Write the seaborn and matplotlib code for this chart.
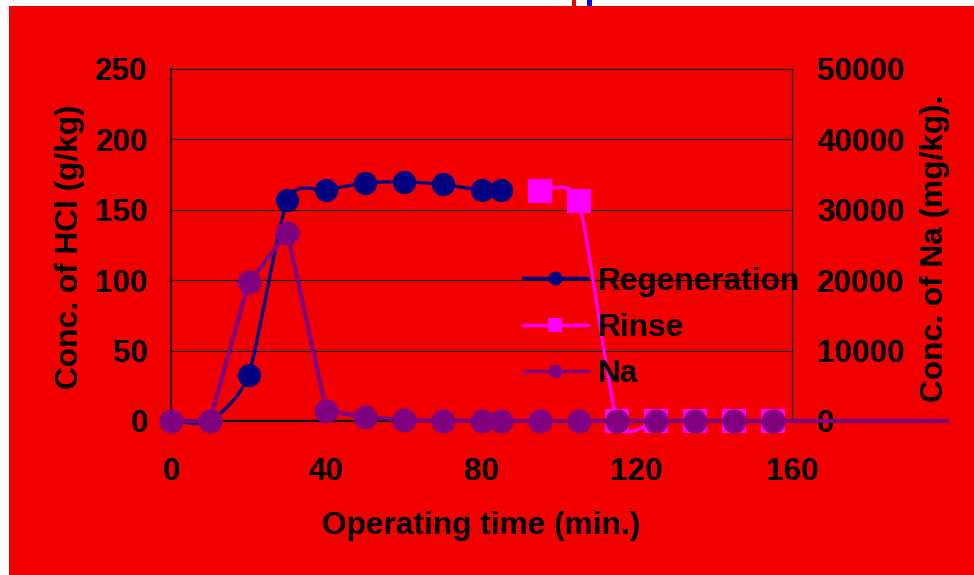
import numpy as np
import pandas as pd
import matplotlib
matplotlib.use("Agg")
import matplotlib.pyplot as plt
from matplotlib.path import Path
from matplotlib.patches import PathPatch, Rectangle
from matplotlib.lines import Line2D
import seaborn as sns

# Operating data
regen_time = [0, 10, 20, 30, 40, 50, 60, 70, 80, 85]
regen_hcl = [0, 0, 33, 157, 164, 169, 170, 168, 164, 164]          # g/kg
rinse_time = [95, 105, 115, 125, 135, 145, 155]
rinse_hcl = [163, 156, 0, 0, 0, 0, 0]                               # g/kg
na_time = [0, 10, 20, 30, 40, 50, 60, 70, 80, 85, 95, 105, 115, 125, 135, 145, 155, 200]
na_conc = [0, 0, 19700, 26700, 1450, 600, 150, 50, 50, 50, 0, 0, 0, 0, 0, 0, 0, 0]  # mg/kg

x_ticks = [0, 40, 80, 120, 160]
hcl_ticks = [0, 50, 100, 150, 200, 250]
na_ticks = [0, 10000, 20000, 30000, 40000, 50000]

BG = "#F20000"
NAVY = "#000080"
MAGENTA = "#FF00FF"
PURPLE = "#800080"

sns.set_theme(style="white")
plt.rcParams["font.family"] = ["Liberation Sans", "DejaVu Sans"]
plt.rcParams["font.weight"] = "bold"
FS = 22.8

W, H = 974, 575
fig = plt.figure(figsize=(W / 100, H / 100), dpi=100, facecolor="white")

# red backdrop and the two small marks on the top edge
fig.patches.append(Rectangle((9 / W, 0), 1 - 9 / W, (H - 6) / H, transform=fig.transFigure,
                             facecolor=BG, edgecolor="none", zorder=-10))
fig.patches.append(Rectangle((572 / W, (H - 6) / H), 4 / W, 6 / H, transform=fig.transFigure,
                             facecolor=BG, edgecolor="none", zorder=-10))
fig.patches.append(Rectangle((587 / W, (H - 6) / H), 5 / W, 6 / H, transform=fig.transFigure,
                             facecolor="#0505F0", edgecolor="none", zorder=-10))

ax = fig.add_axes([171 / W, 1 - 421 / H, (792 - 171) / W, (421 - 69) / H])
ax.set_facecolor("none")
ax2 = ax.twinx()
ax2.patch.set_visible(False)


def smooth_path(xs, ys, k=1 / 9):
    """Bezier path through the points with Catmull-Rom style tangents."""
    pts = np.column_stack([xs, ys]).astype(float)
    n = len(pts)
    verts = [pts[0]]
    codes = [Path.MOVETO]
    for i in range(n - 1):
        p0 = pts[max(i - 1, 0)]
        p1 = pts[i]
        p2 = pts[i + 1]
        p3 = pts[min(i + 2, n - 1)]
        verts += [p1 + (p2 - p0) * k, p2 - (p3 - p1) * k, p2]
        codes += [Path.CURVE4] * 3
    return Path(verts, codes)


regen = pd.DataFrame({"time": regen_time, "hcl": regen_hcl})
rinse = pd.DataFrame({"time": rinse_time, "hcl": rinse_hcl})
na = pd.DataFrame({"time": na_time, "na": na_conc})

# smoothed HCl curves
ax.add_patch(PathPatch(smooth_path(regen["time"], regen["hcl"]), facecolor="none",
                       edgecolor=NAVY, lw=2.3, zorder=3, clip_on=False))
ax.add_patch(PathPatch(smooth_path(rinse["time"], rinse["hcl"]), facecolor="none",
                       edgecolor=MAGENTA, lw=2.3, zorder=3, clip_on=False))
sns.scatterplot(data=regen, x="time", y="hcl", ax=ax, color=NAVY, marker="o", s=280,
                linewidth=0, zorder=4, clip_on=False, legend=False)
sns.scatterplot(data=rinse, x="time", y="hcl", ax=ax, color=MAGENTA, marker="s", s=300,
                linewidth=0, zorder=4, clip_on=False, legend=False)

# sodium on the secondary axis
sns.lineplot(data=na, x="time", y="na", ax=ax2, color=PURPLE, lw=3, sort=False,
             estimator=None, clip_on=False, zorder=3, legend=False)
na_pts = na[na["time"] <= x_ticks[-1]]
sns.scatterplot(data=na_pts, x="time", y="na", ax=ax2, color=PURPLE, marker="o", s=300,
                linewidth=0, zorder=4, clip_on=False, legend=False)

ax.set_xlim(x_ticks[0], x_ticks[-1])
ax.set_ylim(hcl_ticks[0], hcl_ticks[-1])
ax2.set_ylim(na_ticks[0], na_ticks[-1])
ax.set_xticks(x_ticks)
ax.set_yticks(hcl_ticks)
ax2.set_yticks(na_ticks)
ax.set_xticklabels([str(v) for v in x_ticks])
ax.set_yticklabels([str(v) for v in hcl_ticks])
ax2.set_yticklabels([str(v) for v in na_ticks])

ax.grid(axis="y", color="black", lw=0.8)
ax.grid(axis="x", visible=False)
ax2.grid(False)
ax.set_axisbelow(True)

for a in (ax, ax2):
    for s in a.spines.values():
        s.set_visible(False)
ax.spines["left"].set_visible(True)
ax.spines["left"].set_color("black")
ax.spines["left"].set_linewidth(1.2)
ax.spines["bottom"].set_visible(True)
ax.spines["bottom"].set_color("black")
ax.spines["bottom"].set_linewidth(1.6)
ax.spines["top"].set_visible(True)
ax.spines["top"].set_color("black")
ax.spines["top"].set_linewidth(0.8)
ax2.spines["right"].set_visible(True)
ax2.spines["right"].set_color("black")
ax2.spines["right"].set_linewidth(0.8)

ax.tick_params(axis="x", direction="in", length=4, width=0.8, color="black",
               labelsize=FS, pad=26, labelcolor="black")
ax.tick_params(axis="y", length=0, labelsize=FS, pad=16.5, labelcolor="black")
ax2.tick_params(axis="y", length=0, labelsize=FS, pad=18, labelcolor="black")
for lab in ax.get_xticklabels() + ax.get_yticklabels() + ax2.get_yticklabels():
    lab.set_fontweight("bold")

ax.set_xlabel("")
ax.set_ylabel("")
ax2.set_ylabel("")

fig.text(481 / W, 1 - 534 / H, "Operating time (min.)", ha="center", va="baseline",
         fontsize=FS, fontweight="bold", color="black")
fig.text(78 / W, 1 - 247 / H, "Conc. of HCl (g/kg)", ha="center", va="baseline",
         rotation=90, rotation_mode="anchor", fontsize=FS, fontweight="bold", color="black")
fig.text(943 / W, 1 - 248 / H, "Conc. of Na (mg/kg).", ha="center", va="baseline",
         rotation=90, rotation_mode="anchor", fontsize=FS, fontweight="bold", color="black")

handles = [
    Line2D([], [], color=NAVY, lw=2.5, marker="o", markersize=10, markeredgewidth=0),
    Line2D([], [], color=MAGENTA, lw=2.5, marker="s", markersize=10.5, markeredgewidth=0),
    Line2D([], [], color=PURPLE, lw=2.5, marker="o", markersize=10, markeredgewidth=0),
]
leg = ax2.legend(handles, ["Regeneration", "Rinse", "Na"], loc="center left",
                 bbox_to_anchor=(523 / W, 1 - 328 / H), bbox_transform=fig.transFigure,
                 frameon=False, fontsize=FS, borderpad=0, borderaxespad=0,
                 handlelength=2.05, handletextpad=0.3, labelspacing=0.52)
for t in leg.get_texts():
    t.set_fontweight("bold")
    t.set_color("black")
leg.set_zorder(10)

fig.savefig("out.png", dpi=100, facecolor="white")
